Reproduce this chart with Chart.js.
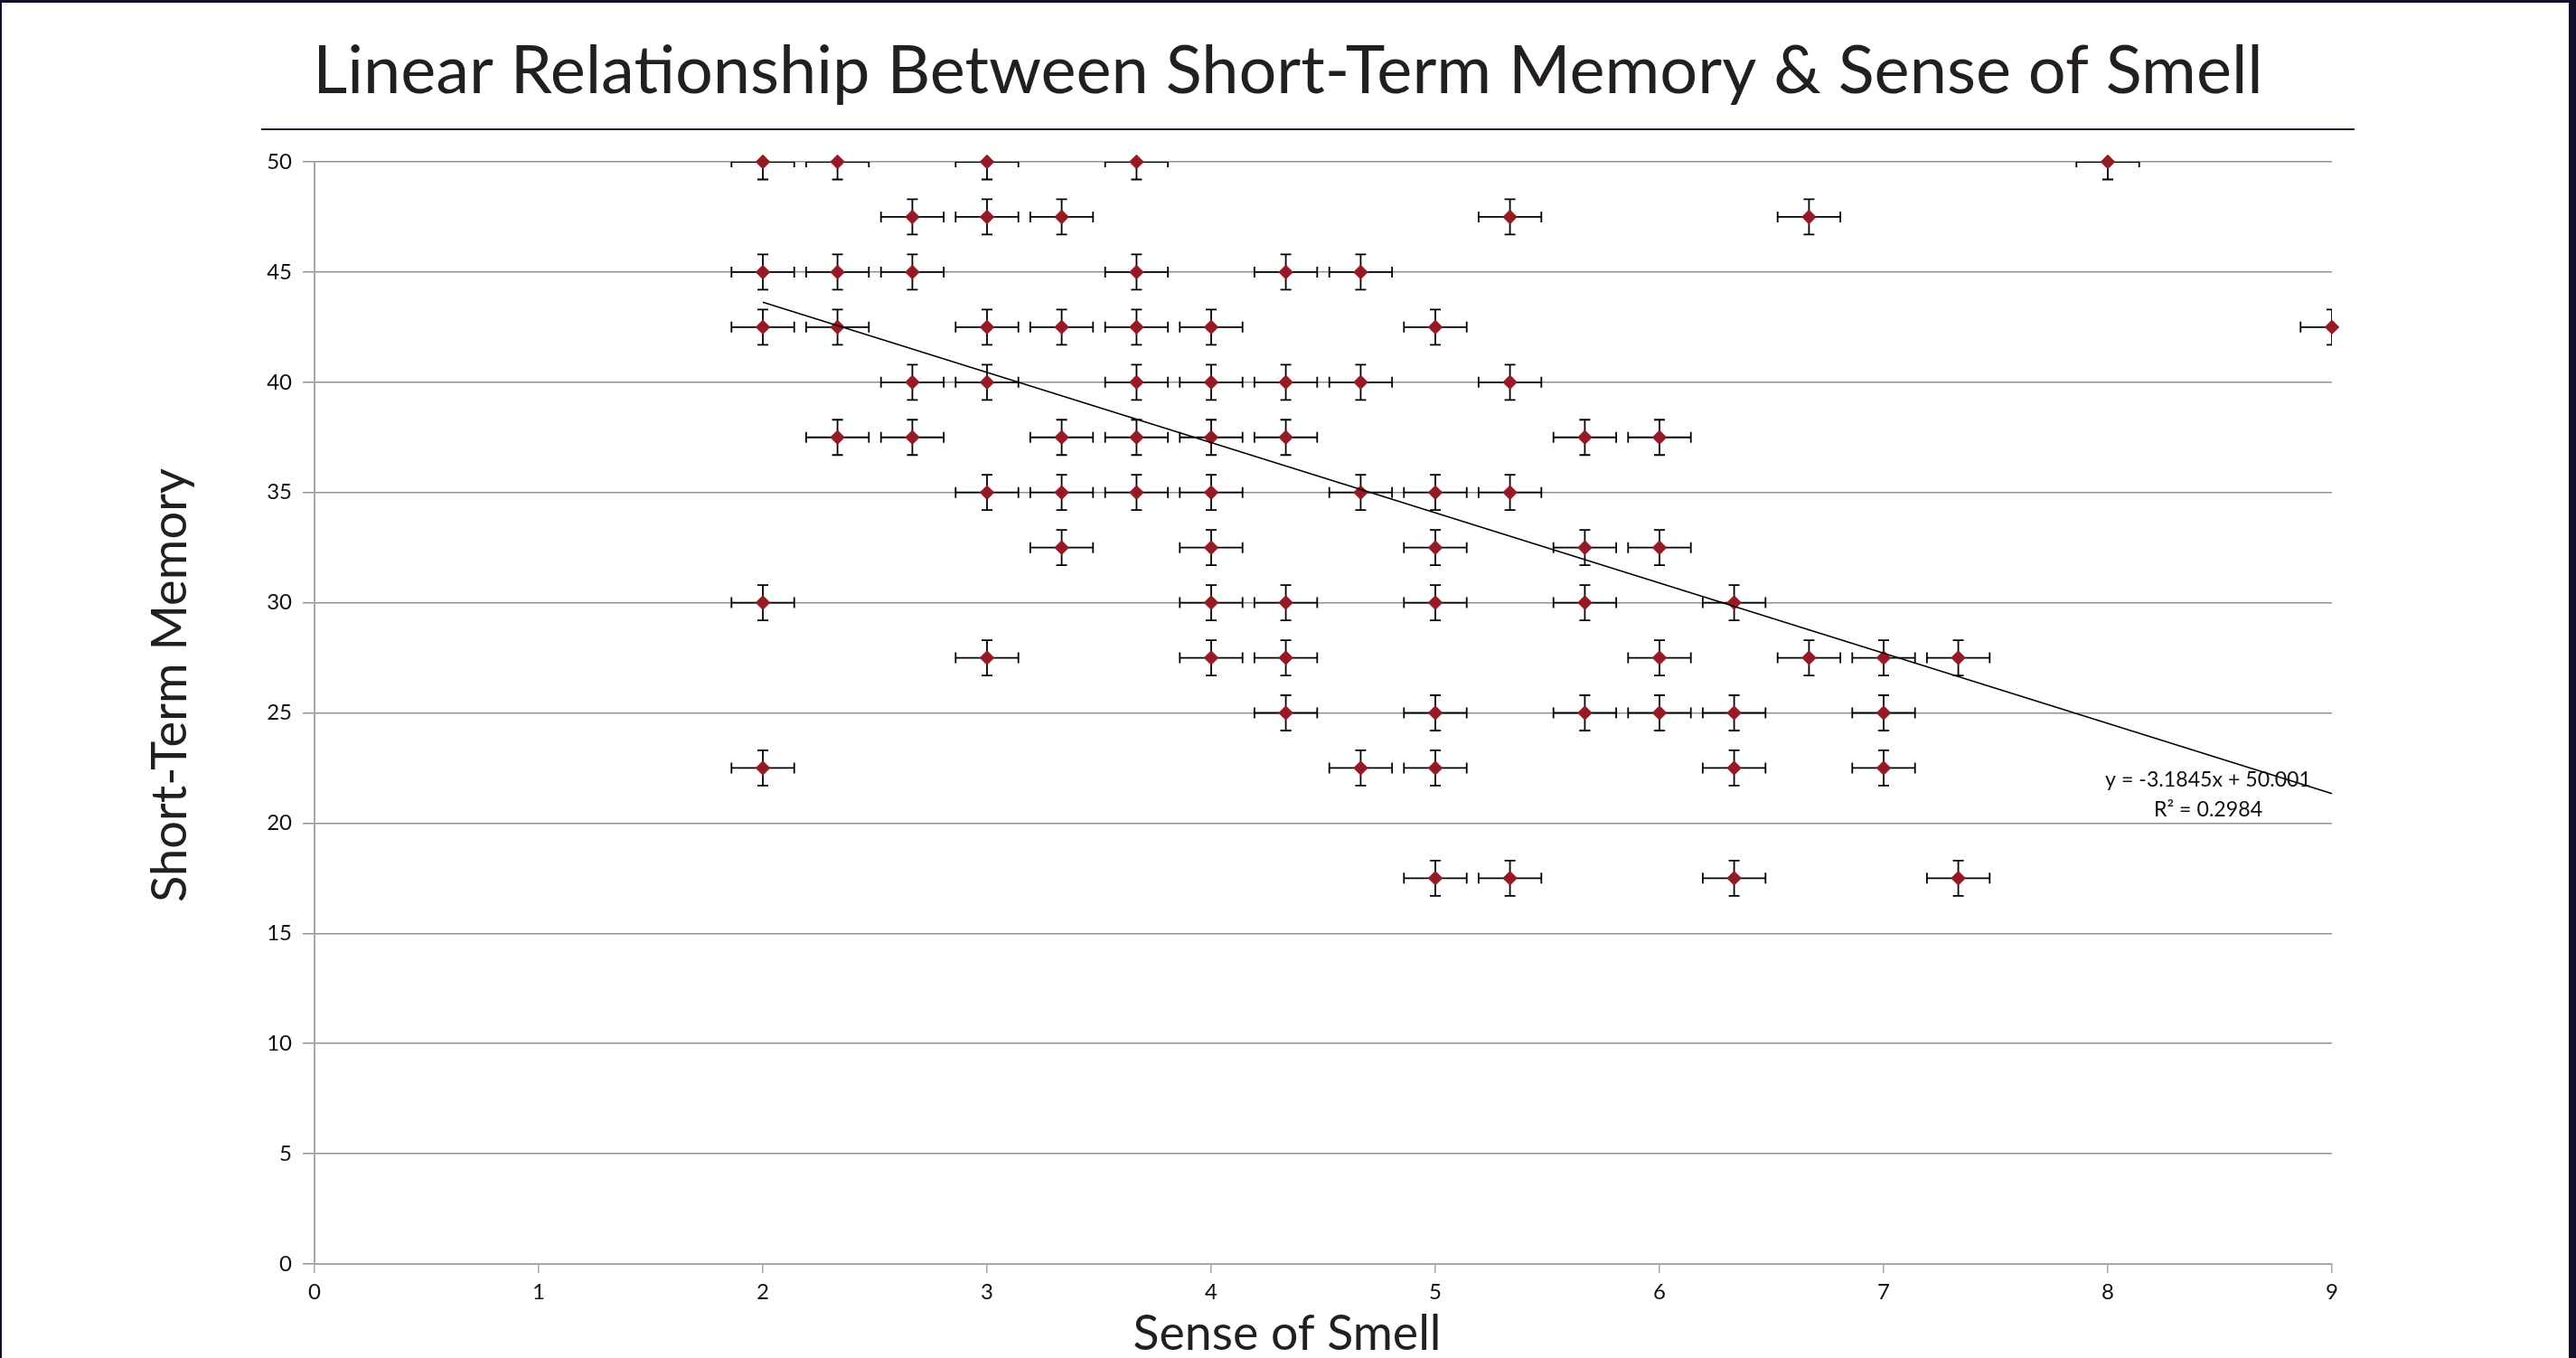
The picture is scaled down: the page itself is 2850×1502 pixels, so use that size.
<!DOCTYPE html>
<html>
<head>
<meta charset="utf-8">
<title>Linear Relationship Between Short-Term Memory &amp; Sense of Smell</title>
<script src="https://cdn.jsdelivr.net/npm/chart.js@4.4.1/dist/chart.umd.min.js"></script>
<style>
  html, body { margin: 0; padding: 0; background: #ffffff; }
  #stage { position: relative; width: 2850px; height: 1502px; overflow: hidden; background: #ffffff; }
  #chart { position: absolute; left: 0; top: 0; }
  #rule { position: absolute; left: 289px; top: 142px; width: 2316px; height: 2px; background: #1c1c2c; }
  #frame { position: absolute; left: 0; top: 0; width: 2850px; height: 1502px; box-sizing: border-box;
           border-top: 3px solid #10102a; border-left: 2px solid #10102a; border-right: 8px solid #10102a;
           pointer-events: none; }
</style>
</head>
<body>
<div id="stage">
  <canvas id="chart" width="2850" height="1502"></canvas>
  <div id="rule"></div>
  <div id="frame"></div>
</div>
<script>
// ---------------- data ----------------
const chartTitle = 'Linear Relationship Between Short-Term Memory & Sense of Smell';
const xAxisTitle = 'Sense of Smell';
const yAxisTitle = 'Short-Term Memory';

const smellX = [
  2, 2.333, 3, 3.667, 8,
  2.667, 3, 3.333, 5.333, 6.667,
  2, 2.333, 2.667, 3.667, 4.333, 4.667,
  2, 2.333, 3, 3.333, 3.667, 4, 5, 9,
  2.667, 3, 3.667, 4, 4.333, 4.667, 5.333,
  2.333, 2.667, 3.333, 3.667, 4, 4.333, 5.667, 6,
  3, 3.333, 3.667, 4, 4.667, 5, 5.333,
  3.333, 4, 5, 5.667, 6,
  2, 4, 4.333, 5, 5.667, 6.333,
  3, 4, 4.333, 6, 6.667, 7, 7.333,
  4.333, 5, 5.667, 6, 6.333, 7,
  2, 4.667, 5, 6.333, 7,
  5, 5.333, 6.333, 7.333
];
const memoryY = [
  50, 50, 50, 50, 50,
  47.5, 47.5, 47.5, 47.5, 47.5,
  45, 45, 45, 45, 45, 45,
  42.5, 42.5, 42.5, 42.5, 42.5, 42.5, 42.5, 42.5,
  40, 40, 40, 40, 40, 40, 40,
  37.5, 37.5, 37.5, 37.5, 37.5, 37.5, 37.5, 37.5,
  35, 35, 35, 35, 35, 35, 35,
  32.5, 32.5, 32.5, 32.5, 32.5,
  30, 30, 30, 30, 30, 30,
  27.5, 27.5, 27.5, 27.5, 27.5, 27.5, 27.5,
  25, 25, 25, 25, 25, 25,
  22.5, 22.5, 22.5, 22.5, 22.5,
  17.5, 17.5, 17.5, 17.5
];
const smellError = 0.14;
const memoryError = 0.8;

const xTickValues = [0, 1, 2, 3, 4, 5, 6, 7, 8, 9];
const yTickValues = [0, 5, 10, 15, 20, 25, 30, 35, 40, 45, 50];

const trendSlope = -3.1845;
const trendIntercept = 50.001;
const trendR2 = 0.2984;

// ---------------- styling / layout ----------------
const FONT = 'Lato, "Open Sans", sans-serif';
const TEXT_COLOR = '#231f20';
const MARKER_COLOR = '#951a26';

const mctx = document.createElement('canvas').getContext('2d');
function fitSize(text, target) {
  mctx.font = '100px ' + FONT;
  return 100 * target / mctx.measureText(text).width;
}
function baselineBelowMiddle(size) {
  mctx.font = size + 'px ' + FONT;
  mctx.textBaseline = 'alphabetic';
  const a = mctx.measureText('H').actualBoundingBoxAscent;
  mctx.textBaseline = 'middle';
  const m = mctx.measureText('H').actualBoundingBoxAscent;
  mctx.textBaseline = 'alphabetic';
  return a - m;
}

const trendLabel1 = 'y = ' + trendSlope + 'x + ' + trendIntercept;
const trendLabel2 = 'R\u00B2 = ' + trendR2;

const titleSize = fitSize(chartTitle, 2158);
const xTitleSize = fitSize(xAxisTitle, 341);
const yTitleSize = fitSize(yAxisTitle, 480);
const trendSize = fitSize(trendLabel1, 228);

const TITLE_BASELINE = 103;
const PLOT_TOP = 179;
const titlePadTop = TITLE_BASELINE - titleSize / 2 - baselineBelowMiddle(titleSize);
const titlePadBottom = PLOT_TOP - titleSize - titlePadTop;

const points = smellX.map((sx, i) => ({ x: sx, y: memoryY[i] }));
const trendX0 = Math.min(...smellX);
const trendX1 = Math.max(...smellX);
const trendPoints = [
  { x: trendX0, y: trendSlope * trendX0 + trendIntercept },
  { x: trendX1, y: trendSlope * trendX1 + trendIntercept }
];

const errorBars = {
  id: 'errorBars',
  beforeDatasetsDraw(chart) {
    const { ctx, chartArea: ca, scales: { x, y } } = chart;
    const cap = 6;
    ctx.save();
    ctx.beginPath();
    ctx.rect(ca.left, ca.top, ca.right - ca.left, ca.bottom - ca.top);
    ctx.clip();
    ctx.strokeStyle = '#000000';
    ctx.lineWidth = 1.8;
    smellX.forEach((sx, i) => {
      const my = memoryY[i];
      const px = x.getPixelForValue(sx);
      const py = y.getPixelForValue(my);
      const xl = x.getPixelForValue(sx - smellError);
      const xr = x.getPixelForValue(sx + smellError);
      const yt = y.getPixelForValue(my + memoryError);
      const yb = y.getPixelForValue(my - memoryError);
      ctx.beginPath();
      ctx.moveTo(xl, py); ctx.lineTo(xr, py);
      ctx.moveTo(xl, py - cap); ctx.lineTo(xl, py + cap);
      ctx.moveTo(xr, py - cap); ctx.lineTo(xr, py + cap);
      ctx.moveTo(px, yt); ctx.lineTo(px, yb);
      ctx.moveTo(px - cap, yt); ctx.lineTo(px + cap, yt);
      ctx.moveTo(px - cap, yb); ctx.lineTo(px + cap, yb);
      ctx.stroke();
    });
    ctx.restore();
  }
};

const overlayText = {
  id: 'overlayText',
  afterDraw(chart) {
    const { ctx } = chart;
    ctx.save();
    ctx.fillStyle = TEXT_COLOR;
    ctx.textAlign = 'center';
    ctx.textBaseline = 'alphabetic';
    ctx.font = xTitleSize + 'px ' + FONT;
    ctx.fillText(xAxisTitle, 1424, 1493);
    ctx.save();
    ctx.translate(206, 758);
    ctx.rotate(-Math.PI / 2);
    ctx.font = yTitleSize + 'px ' + FONT;
    ctx.fillText(yAxisTitle, 0, 0);
    ctx.restore();
    ctx.fillStyle = '#111111';
    ctx.font = trendSize + 'px ' + FONT;
    ctx.fillText(trendLabel1, 2443, 870);
    ctx.fillText(trendLabel2, 2443, 903);
    ctx.restore();
  }
};

new Chart(document.getElementById('chart'), {
  type: 'scatter',
  data: {
    datasets: [
      {
        type: 'line',
        label: 'Linear trend',
        data: trendPoints,
        borderColor: '#000000',
        borderWidth: 1.6,
        pointRadius: 0,
        fill: false,
        tension: 0,
        order: 0,
        clip: false
      },
      {
        type: 'scatter',
        label: 'Short-Term Memory',
        data: points,
        pointStyle: 'rectRot',
        pointRadius: 8,
        pointHoverRadius: 8,
        backgroundColor: MARKER_COLOR,
        borderColor: MARKER_COLOR,
        pointBorderWidth: 0.5,
        order: 1,
        clip: false
      }
    ]
  },
  options: {
    responsive: false,
    animation: false,
    devicePixelRatio: 1,
    layout: { padding: 0 },
    events: [],
    plugins: {
      legend: { display: false },
      tooltip: { enabled: false },
      title: {
        display: true,
        text: chartTitle,
        color: TEXT_COLOR,
        font: { family: FONT, size: titleSize, weight: 'normal', lineHeight: 1 },
        padding: { top: titlePadTop, bottom: titlePadBottom }
      }
    },
    scales: {
      x: {
        type: 'linear',
        position: 'bottom',
        min: 0,
        max: 9,
        afterBuildTicks: s => { s.ticks = xTickValues.map(v => ({ value: v })); },
        afterFit: s => { s.height = 104; },
        grid: { drawOnChartArea: false, drawTicks: true, tickLength: 10, color: '#a6a6a6', lineWidth: 1.5 },
        border: { display: true, color: '#a6a6a6', width: 2 },
        ticks: { color: '#111111', font: { family: FONT, size: 24 }, padding: 7, maxRotation: 0, autoSkip: false }
      },
      y: {
        type: 'linear',
        position: 'left',
        min: 0,
        max: 50,
        afterBuildTicks: s => { s.ticks = yTickValues.map(v => ({ value: v })); },
        afterFit: s => { s.width = 348; },
        grid: { color: '#929292', lineWidth: 1.5, tickLength: 13, drawTicks: true },
        border: { display: true, color: '#a6a6a6', width: 2 },
        ticks: { color: '#111111', font: { family: FONT, size: 24 }, padding: 12, autoSkip: false }
      },
      yRight: {
        type: 'linear',
        axis: 'y',
        position: 'right',
        display: true,
        grid: { display: false, drawTicks: false },
        border: { display: false },
        ticks: { display: false },
        afterFit: s => { s.width = 270; }
      }
    }
  },
  plugins: [errorBars, overlayText]
});
</script>
</body>
</html>
